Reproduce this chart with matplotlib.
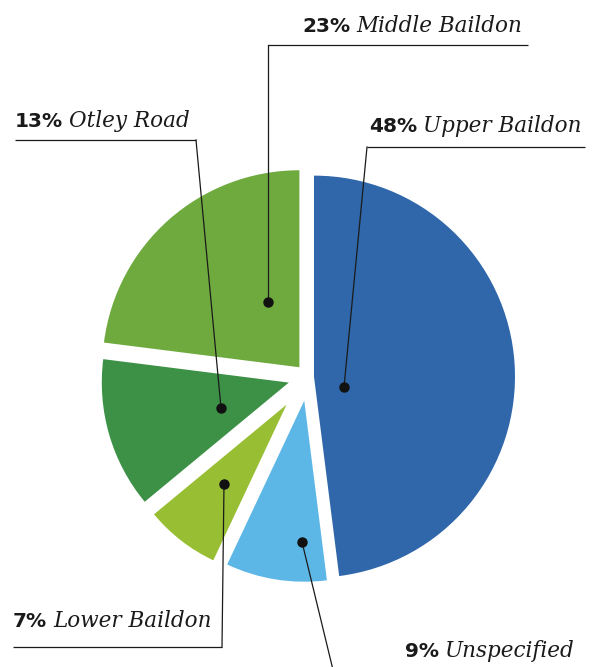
import matplotlib
matplotlib.use("Agg")
import matplotlib.pyplot as plt

# ---- data ----
categories = ["Upper Baildon", "Unspecified", "Lower Baildon", "Otley Road", "Middle Baildon"]
values = [48, 9, 7, 13, 23]
pct_labels = ["48%", "9%", "7%", "13%", "23%"]

# ---- style ----
colors = ["#2F67AA", "#5DB7E6", "#98BE33", "#3D9147", "#6FAA3E"]
explode_px = [6, 24, 35, 20, 13]
radii = [201, 181, 172, 187, 197]
center = (308, 377)

W, H = 597, 667
fig = plt.figure(figsize=(W / 100, H / 100), dpi=100)
ax = fig.add_axes([0, 0, 1, 1])

wedges, _ = ax.pie(values, colors=colors, startangle=-90, counterclock=True,
                   radius=200, center=center, explode=explode_px,
                   wedgeprops=dict(linewidth=0))
for w, r in zip(wedges, radii):
    w.set_radius(r)

ax.set_xlim(0, W)
ax.set_ylim(H, 0)
ax.set_aspect("equal")
ax.axis("off")

# ---- label layout (pixel coords): text (x, baseline), underline, leader path ----
layout = {
    "Middle Baildon": dict(tx=302, ty=32, ul=(268, 528, 45), path=[(268, 45), (268, 302)]),
    "Otley Road": dict(tx=15, ty=127, ul=(15, 196, 140), path=[(196, 140), (221, 408)]),
    "Upper Baildon": dict(tx=369, ty=132, ul=(367, 585, 147), path=[(367, 147), (344, 387)]),
    "Lower Baildon": dict(tx=13, ty=627, ul=(13, 222, 647), path=[(222, 647), (224, 484)]),
    "Unspecified": dict(tx=405, ty=657, ul=(330, 590, 674), path=[(334, 674), (302, 542)]),
}

fig.canvas.draw()
renderer = fig.canvas.get_renderer()
inv = ax.transData.inverted()
for cat, pct in zip(categories, pct_labels):
    L = layout[cat]
    x0, x1, yl = L["ul"]
    ax.plot([x0, x1], [yl, yl], color="#1a1a1a", lw=0.9, solid_capstyle="butt")
    (ax_, ay_), (bx_, by_) = L["path"]
    ax.plot([ax_, bx_], [ay_, by_], color="#1a1a1a", lw=0.9)
    dot = L["path"][1]
    ax.plot([dot[0]], [dot[1]], "o", color="#111111", ms=6.5)
    t = ax.text(L["tx"], L["ty"], pct, fontsize=14.5, fontweight="bold",
                family="DejaVu Sans", color="#1a1a1a", va="baseline", ha="left")
    bb = t.get_window_extent(renderer=renderer)
    xe = inv.transform((bb.x1, bb.y0))[0]
    ax.text(xe + 6, L["ty"], cat, fontsize=15.5, fontstyle="italic",
            family="DejaVu Serif", color="#1a1a1a", va="baseline", ha="left")

fig.savefig("out.png", dpi=100)
